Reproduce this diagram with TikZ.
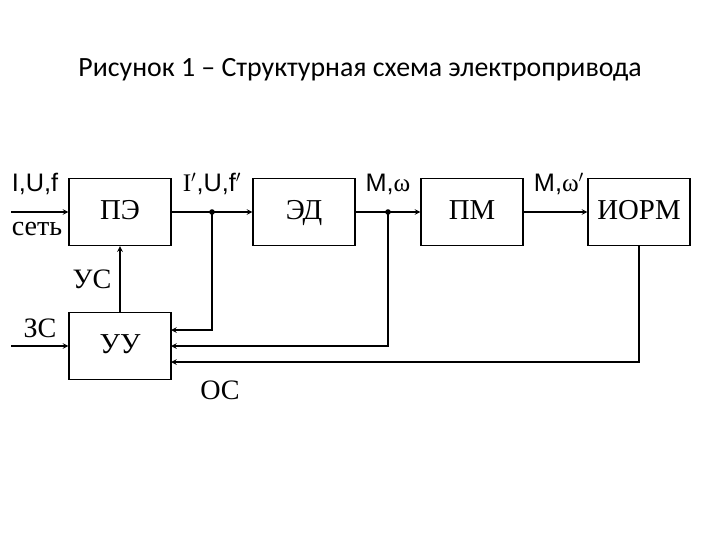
\documentclass[tikz,border=0pt]{standalone}
\usepackage{fontspec}
\setmainfont{Liberation Serif}
\newfontfamily\titlefont{Carlito}
\newfontfamily\sigfont{Liberation Sans}
\usetikzlibrary{positioning}

\begin{document}
\begin{tikzpicture}[>=stealth, x=0.025cm, y=-0.025cm, line width=0.8pt,
  blok/.style={draw, minimum width=2.55cm, minimum height=1.68cm, inner sep=0pt, text height=10pt, text depth=0pt, font=\fontsize{20.5}{22}\selectfont},
  txt/.style={inner sep=0pt, font=\fontsize{20}{22}\selectfont},
  sig/.style={inner sep=0pt, font=\sigfont\fontsize{18}{20}\selectfont}]
\useasboundingbox (0,0) rectangle (720,540);
\node[inner sep=0pt, font=\titlefont\fontsize{19.8}{22}\selectfont] (title) at (360,70) {Рисунок 1 – Структурная схема электропривода};
\node[blok] (pe) at (120,212) {ПЭ};
\node[blok] (ed) at (304,212) {ЭД};
\node[blok] (pm) at (472,212) {ПМ};
\node[blok] (iorm) at (639,212) {ИОРМ};
\node[blok] (uu) at (120,346) {УУ};
\coordinate (inA) at (11,212);
\coordinate (inB) at (11,346);
\coordinate (j1) at (212,212);
\coordinate (j2) at (388,212);
\coordinate (fb1) at (171,330);
\coordinate (fb2) at (171,346);
\coordinate (fb3) at (171,362);
\draw[->](inA)--(pe);
\draw[->](inB)--(uu);
\draw[->](pe)--(ed);
\draw[->](ed)--(pm);
\draw[->](pm)--(iorm);
\draw[->](uu)--(pe);
\draw[->](j1)|-(fb1);
\draw[->](j2)|-(fb2);
\draw[->](iorm.south)|-(fb3);
\fill (j1) circle (2pt);
\fill (j2) circle (2pt);
\node[sig] (lin) at (35,184) {I,U,f};
\node[txt] (lnet) at (37,229) {сеть};
\node[sig] (lpe) at (212,184) {{\rmfamily I$'$},U,f$'$};
\node[sig] (led) at (388,184) {M,{\rmfamily ω}};
\node[sig] (lpm) at (559,184) {M,{\rmfamily ω$'$}};
\node[txt] (lus) at (92,279) {УС};
\node[txt] (lzs) at (40,328) {ЗС};
\node[txt] (los) at (220,390) {ОС};
\end{tikzpicture}
\end{document}
